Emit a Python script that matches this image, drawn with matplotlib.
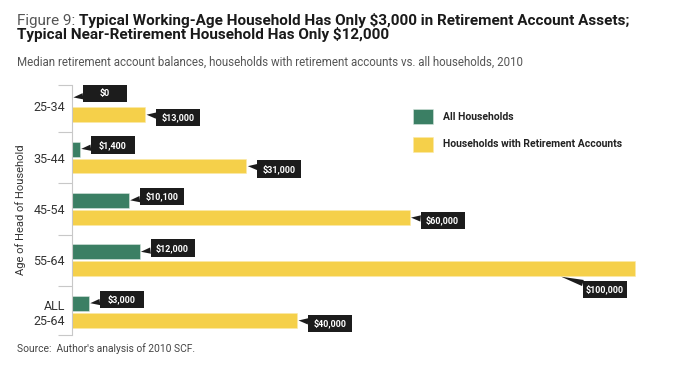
import matplotlib
matplotlib.use("Agg")
import matplotlib.pyplot as plt
from matplotlib.path import Path

# data
groups = ["25-34", "35-44", "45-54", "55-64", "ALL\n25-64"]
all_households = [0, 1400, 10100, 12000, 3000]
with_accounts = [13000, 31000, 60000, 100000, 40000]
all_labels = ["$0", "$1,400", "$10,100", "$12,000", "$3,000"]
acct_labels = ["$13,000", "$31,000", "$60,000", "$100,000", "$40,000"]

GREEN = "#3b7f64"
YELLOW = "#f5d04a"
BOX = "#1c1c1c"

plt.rcParams["font.family"] = ["Roboto", "DejaVu Sans"]

W, H = 680, 376
fig = plt.figure(figsize=(W / 100, H / 100), dpi=100)
ax = fig.add_axes([72 / W, 1 - 335 / H, (637 - 72) / W, (335 - 85) / H])

ypos = list(range(len(groups)))
bh = 0.29
off = 0.165
ax.barh([y - off for y in ypos], all_households, height=bh, color=GREEN,
        edgecolor="#d8e6df", linewidth=0.4)
ax.barh([y + off for y in ypos], with_accounts, height=bh, color=YELLOW,
        edgecolor="#fbe9a8", linewidth=0.4)

ax.set_xlim(0, 100400)
ax.set_ylim(4.45, -0.41)
ax.set_xticks([])
ax.set_yticks(ypos)
ax.set_yticklabels(groups, fontsize=9, color="#333333")
ax.tick_params(axis="y", which="major", length=0, pad=5)
ax.set_yticks([-0.41, 0.5, 1.5, 2.5, 3.5, 4.45], minor=True)
ax.tick_params(axis="y", which="minor", length=10, color="#c8c8c8", width=0.8)
for s in ["top", "right", "bottom"]:
    ax.spines[s].set_visible(False)
ax.spines["left"].set_color("#c8c8c8")
ax.spines["left"].set_linewidth(0.8)
ax.set_ylabel("Age of Head of Household", fontsize=8, color="#333333")
ax.yaxis.set_label_coords(-0.081, 0.5)


def fixed_box(x0, y0, width, height, mutation_size):
    # label boxes all have the same width in the original
    bw = 44
    pad = 0.42 * mutation_size
    cx = x0 + width / 2
    l, r = cx - bw / 2, cx + bw / 2
    b, t = y0 - pad, y0 + height + pad
    return Path([(l, b), (r, b), (r, t), (l, t), (l, b)], closed=True)


box = dict(boxstyle=fixed_box, fc=BOX, ec="none")
arrow = dict(arrowstyle="wedge,tail_width=0.7,shrink_factor=0.5", fc=BOX, ec="none",
             shrinkA=0, shrinkB=1)
lbl = dict(textcoords="offset pixels", ha="center", va="center", fontsize=6.5,
           fontweight="bold", color="white", bbox=box, arrowprops=arrow,
           annotation_clip=False)

xmax = max(with_accounts)
for y, v, lab in zip(ypos, all_households, all_labels):
    ax.annotate(lab, xy=(v, y - off), xytext=(33, 4), **lbl)
for y, v, lab in zip(ypos, with_accounts, acct_labels):
    if v == xmax:
        ax.annotate(lab, xy=(v * 0.867, y + off + bh / 2), xytext=(45, -13), **lbl)
    else:
        ax.annotate(lab, xy=(v, y + off), xytext=(33, -3), **lbl)

# legend
h1 = plt.Rectangle((0, 0), 1, 1, fc=GREEN, ec="#d8e6df", lw=0.4)
h2 = plt.Rectangle((0, 0), 1, 1, fc=YELLOW, ec="#fbe9a8", lw=0.4)
leg = fig.legend([h1, h2], ["All Households", "Households with Retirement Accounts"],
                 loc="upper left", bbox_to_anchor=(413 / W, 1 - 109 / H), frameon=False,
                 prop={"size": 7.5, "weight": "bold"}, handlelength=1.9, handleheight=1.8,
                 labelspacing=1.25, handletextpad=0.95, borderpad=0, borderaxespad=0)
for t in leg.get_texts():
    t.set_color("#222222")

# titles
t1 = fig.text(17 / W, 1 - 25 / H, "Figure 9: ", fontsize=11, color="#555555",
              va="baseline")
fig.canvas.draw()
ext = t1.get_window_extent()
fig.text(ext.x1 / W, 1 - 25 / H,
         "Typical Working-Age Household Has Only $3,000 in Retirement Account Assets;",
         fontsize=11, fontweight="bold", color="#1a1a1a", va="baseline")
fig.text(17 / W, 1 - 39 / H, "Typical Near-Retirement Household Has Only $12,000",
         fontsize=11, fontweight="bold", color="#1a1a1a", va="baseline")
fig.text(17 / W, 1 - 65.5 / H,
         "Median retirement account balances, households with retirement accounts vs. all households, 2010",
         fontsize=8.3, color="#555555", va="baseline")
fig.text(17 / W, 1 - 352 / H, "Source:  Author's analysis of 2010 SCF.", fontsize=7.4,
         color="#444444", va="baseline")

fig.savefig("out.png", dpi=100)
